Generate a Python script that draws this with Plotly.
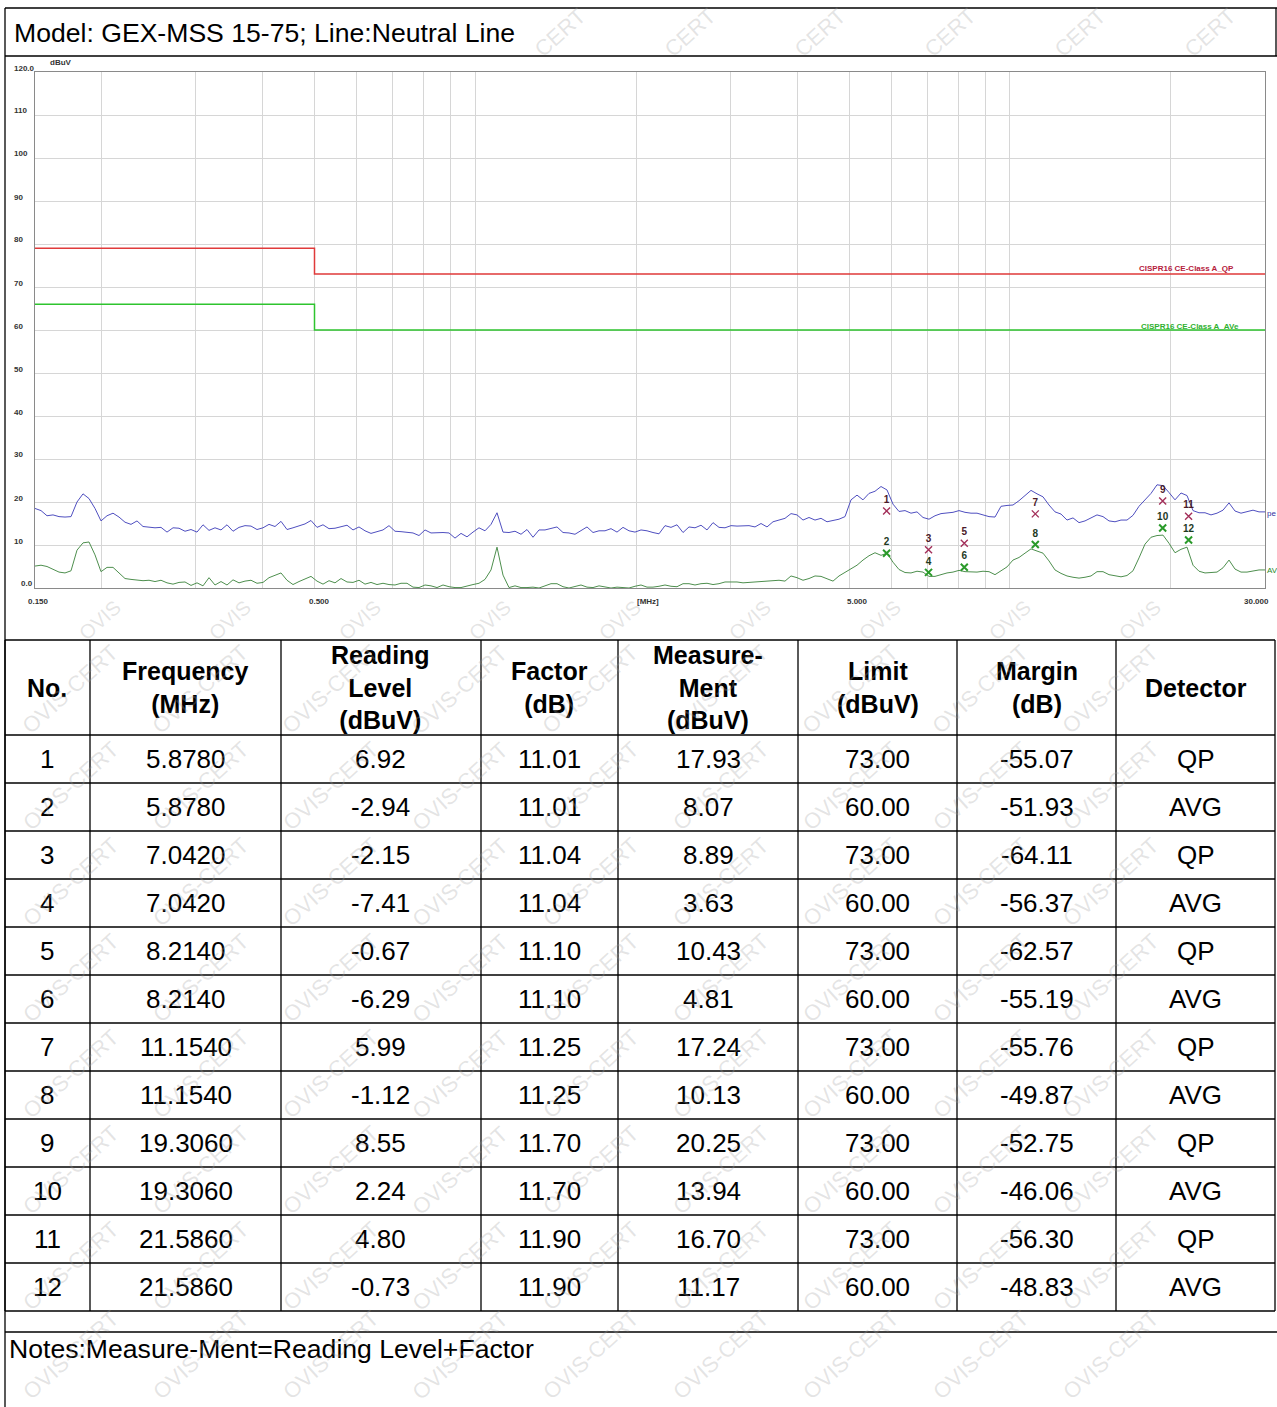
import numpy as np
import plotly.graph_objects as go

W, H = 1277, 1407

title_text = "Model: GEX-MSS 15-75; Line:Neutral Line"
notes_text = "Notes:Measure-Ment=Reading Level+Factor"

peak_dbuv = [
    18.5, 18.0, 16.8, 17.0, 16.6, 16.5, 16.6, 20.0, 21.9, 20.8, 18.5, 15.6, 16.8, 17.4, 16.5, 15.3,
    14.8, 15.6, 14.3, 14.2, 14.0, 14.1, 13.0, 14.0, 13.9, 13.2, 13.6, 13.0, 14.7, 13.4, 14.0, 13.5,
    14.7, 13.2, 14.1, 14.5, 14.4, 13.6, 14.0, 14.8, 14.3, 15.5, 13.6, 14.0, 14.5, 14.9, 15.7, 14.1,
    14.7, 13.8, 13.9, 14.2, 14.6, 13.5, 14.2, 13.3, 12.7, 13.1, 13.5, 14.5, 13.2, 13.1, 12.9, 12.8,
    12.2, 13.5, 12.8, 12.9, 12.9, 12.8, 11.6, 12.7, 11.9, 13.0, 14.0, 13.3, 14.8, 17.5, 13.0, 12.9,
    13.2, 12.5, 13.6, 11.8, 13.5, 13.5, 13.9, 14.2, 12.9, 12.8, 12.5, 13.3, 14.2, 12.9, 13.3, 13.3,
    13.8, 13.0, 14.1, 13.3, 13.0, 13.5, 13.3, 12.9, 12.6, 14.5, 14.1, 14.7, 12.9, 14.2, 14.0, 14.6,
    13.5, 15.2, 14.1, 14.0, 14.5, 14.4, 14.5, 14.5, 14.2, 15.0, 14.2, 15.4, 15.8, 16.2, 17.3, 17.0,
    15.8, 16.4, 15.8, 16.2, 15.4, 15.7, 16.0, 16.6, 20.5, 21.6, 20.5, 22.0, 22.5, 23.6, 22.8, 19.5,
    17.8, 18.0, 17.4, 17.7, 16.4, 16.0, 16.8, 17.3, 17.4, 17.6, 18.0, 17.6, 17.4, 17.4, 17.0, 16.6,
    16.5, 19.0, 19.2, 19.3, 20.3, 21.4, 22.7, 21.9, 21.2, 19.3, 17.7, 17.2, 15.8, 16.3, 15.2, 15.6,
    16.3, 17.0, 16.6, 15.6, 15.4, 15.8, 15.8, 16.9, 19.0, 20.6, 22.0, 24.0, 23.8, 22.2, 20.5, 22.1,
    21.5, 18.0, 17.5, 17.5, 17.0, 17.4, 18.1, 19.8, 17.9, 17.4, 17.7, 18.1, 17.7, 17.7,
]
avg_dbuv = [
    5.1, 5.3, 5.0, 4.3, 3.7, 3.5, 4.0, 8.8, 10.5, 10.7, 7.7, 3.8, 4.8, 4.8, 3.4, 2.2,
    2.0, 1.8, 1.7, 1.8, 1.5, 1.8, 1.2, 0.9, 1.3, 1.4, 0.6, 1.2, 0.5, 2.4, 0.7, 1.5,
    0.7, 1.9, 1.2, 1.6, 1.8, 1.1, 1.3, 2.4, 3.0, 3.5, 1.8, 0.8, 1.5, 2.1, 2.7, 1.6,
    0.9, 1.7, 1.2, 2.2, 1.4, 1.3, 1.8, 0.9, 1.3, 0.8, 1.1, 0.8, 0.7, 1.1, 1.1, 0.2,
    0.1, 0.7, 0.5, 0.1, 0.7, 0.3, 0.1, 0.1, 0.5, 0.8, 1.1, 2.0, 4.2, 9.5, 3.0, 0.1,
    0.5, 0.1, 0.1, 0.2, 0.0, 0.5, 1.0, 1.0, 0.3, 0.0, 0.4, 0.7, 0.2, 0.1, 0.5, 0.2,
    0.0, 0.2, 0.1, 0.0, 0.4, 0.7, 0.2, 0.2, 0.4, 0.7, 0.4, 0.3, 1.0, 1.0, 0.7, 1.0,
    1.1, 0.8, 1.0, 1.4, 1.4, 1.4, 1.2, 1.3, 1.4, 1.5, 1.7, 1.8, 1.8, 1.6, 2.8, 2.4,
    1.8, 2.2, 2.8, 2.7, 2.1, 1.6, 2.8, 3.7, 4.4, 5.3, 6.5, 7.5, 8.2, 7.6, 8.1, 6.0,
    4.3, 3.6, 3.5, 3.9, 3.7, 2.7, 2.7, 3.1, 3.5, 3.7, 4.1, 3.8, 3.7, 3.7, 3.9, 3.8,
    3.1, 4.0, 4.9, 6.5, 7.1, 8.1, 9.1, 8.6, 8.1, 6.3, 4.2, 3.4, 2.8, 2.5, 2.3, 2.5,
    2.8, 3.8, 3.8, 3.1, 2.8, 2.6, 2.9, 4.0, 7.0, 10.2, 11.8, 12.2, 12.3, 10.4, 8.2, 9.0,
    9.5, 5.3, 3.9, 3.5, 3.6, 3.7, 4.7, 6.5, 4.4, 3.7, 3.7, 4.0, 4.2, 4.2,
]
sweep_start_mhz, sweep_stop_mhz = 0.15, 30.0
sweep_mhz = np.geomspace(sweep_start_mhz, sweep_stop_mhz, len(peak_dbuv))

# ---- limits ----
limit_freq_mhz = [0.15, 0.5, 30.0]
qp_limit_dbuv = [79, 73, 73]
avg_limit_dbuv = [66, 60, 60]
qp_limit_name = "CISPR16 CE-Class A_QP"
avg_limit_name = "CISPR16 CE-Class A_AVe"
peak_tag, avg_tag = "pe", "AV"

# ---- measurement table ----
meas_no = [1, 2, 3, 4, 5, 6, 7, 8, 9, 10, 11, 12]
meas_freq = [5.878, 5.878, 7.042, 7.042, 8.214, 8.214, 11.154, 11.154, 19.306, 19.306, 21.586, 21.586]
meas_reading = [6.92, -2.94, -2.15, -7.41, -0.67, -6.29, 5.99, -1.12, 8.55, 2.24, 4.80, -0.73]
meas_factor = [11.01, 11.01, 11.04, 11.04, 11.10, 11.10, 11.25, 11.25, 11.70, 11.70, 11.90, 11.90]
meas_value = [17.93, 8.07, 8.89, 3.63, 10.43, 4.81, 17.24, 10.13, 20.25, 13.94, 16.70, 11.17]
meas_limit = [73.00, 60.00, 73.00, 60.00, 73.00, 60.00, 73.00, 60.00, 73.00, 60.00, 73.00, 60.00]
meas_margin = [-55.07, -51.93, -64.11, -56.37, -62.57, -55.19, -55.76, -49.87, -52.75, -46.06, -56.30, -48.83]
meas_detector = ["QP", "AVG", "QP", "AVG", "QP", "AVG", "QP", "AVG", "QP", "AVG", "QP", "AVG"]

header_labels = ["No.", "Frequency<br>(MHz)", "Reading<br>Level<br>(dBuV)", "Factor<br>(dB)",
                 "Measure-<br>Ment<br>(dBuV)", "Limit<br>(dBuV)", "Margin<br>(dB)", "Detector"]

y_tick_vals = [0, 10, 20, 30, 40, 50, 60, 70, 80, 90, 100, 110, 120]
y_tick_text = ["0.0", "10", "20", "30", "40", "50", "60", "70", "80", "90", "100", "110", "120.0"]
x_grid_vals = [0.2, 0.3, 0.4, 0.5, 0.6, 0.7, 0.8, 0.9, 1, 2, 3, 4, 5, 6, 7, 8, 9, 10, 20, 30]
x_label_vals = [0.15, 0.5, 2.09, 5.0, 30.0]
x_label_text = ["0.150", "0.500", "[MHz]", "5.000", "30.000"]

# ---------------- layout geometry (pixels) ----------------
FONT = "Liberation Sans, Arial, sans-serif"
PL, PR, PT, PB = 35, 1265, 72, 588        # plot area
col_edges = [5, 90, 281, 481, 618, 798, 957, 1116, 1275]
tab_top, head_bot, row_h = 640, 735, 48.0


def px(x):
    return x / W


def py(y):
    return 1 - y / H


fig = go.Figure()

# limits
fig.add_trace(go.Scatter(x=limit_freq_mhz, y=qp_limit_dbuv, mode="lines", line_shape="hv",
                         line=dict(color="#e03a3a", width=1.5), hoverinfo="skip"))
fig.add_trace(go.Scatter(x=limit_freq_mhz, y=avg_limit_dbuv, mode="lines", line_shape="hv",
                         line=dict(color="#2ec42e", width=1.5), hoverinfo="skip"))
# traces
fig.add_trace(go.Scatter(x=sweep_mhz, y=peak_dbuv, mode="lines",
                         line=dict(color="#4f4fc0", width=1), hoverinfo="skip"))
fig.add_trace(go.Scatter(x=sweep_mhz, y=avg_dbuv, mode="lines",
                         line=dict(color="#4e8f4e", width=1), hoverinfo="skip"))

# markers
qp_idx = [i for i, d in enumerate(meas_detector) if d == "QP"]
av_idx = [i for i, d in enumerate(meas_detector) if d == "AVG"]
for idx, mcol, tcol, lw in [(qp_idx, "#a3305a", "#4a1a2a", 1.4), (av_idx, "#2a9a2a", "#1f3a1f", 2.0)]:
    fig.add_trace(go.Scatter(
        x=[meas_freq[i] for i in idx], y=[meas_value[i] for i in idx],
        mode="markers+text", text=[f"<b>{meas_no[i]}</b>" for i in idx], textposition="top center",
        textfont=dict(size=10, color=tcol, family=FONT),
        marker=dict(symbol="x-thin-open", size=7, color=mcol, line=dict(color=mcol, width=lw)),
        hoverinfo="skip", cliponaxis=False))

annotations = []
shapes = []

# limit names
annotations.append(dict(x=px(1236), y=py(269), xref="paper", yref="paper", text=f"<b>{qp_limit_name}</b>",
                        showarrow=False, xanchor="right", yanchor="middle",
                        font=dict(size=8, color="#b5203c", family=FONT)))
annotations.append(dict(x=px(1241), y=py(326), xref="paper", yref="paper", text=f"<b>{avg_limit_name}</b>",
                        showarrow=False, xanchor="right", yanchor="middle",
                        font=dict(size=8, color="#30b030", family=FONT)))
# trace tags at right edge
annotations.append(dict(x=px(1265), y=py(513), xref="paper", yref="paper", text=peak_tag,
                        showarrow=False, xanchor="left", yanchor="middle",
                        font=dict(size=8, color="#3030a0", family=FONT)))
annotations.append(dict(x=px(1265), y=py(570), xref="paper", yref="paper", text=avg_tag,
                        showarrow=False, xanchor="left", yanchor="middle",
                        font=dict(size=8, color="#2a8a2a", family=FONT)))

# y tick labels
for v, t in zip(y_tick_vals, y_tick_text):
    ypix = PB - (PB - PT) * v / 120.0
    xl = 12
    if t == "0.0":
        xl = 19
    annotations.append(dict(x=px(xl), y=py(ypix - 4), xref="paper", yref="paper", text=f"<b>{t}</b>",
                            showarrow=False, xanchor="left", yanchor="middle",
                            font=dict(size=8, color="#333", family=FONT)))
annotations.append(dict(x=px(48), y=py(62), xref="paper", yref="paper", text="<b>dBuV</b>",
                        showarrow=False, xanchor="left", yanchor="middle",
                        font=dict(size=8, color="#333", family=FONT)))
# x labels
lx0, lx1 = np.log10(sweep_start_mhz), np.log10(sweep_stop_mhz)
for v, t in zip(x_label_vals, x_label_text):
    xpix = PL + (PR - PL) * (np.log10(v) - lx0) / (lx1 - lx0)
    shift = {"0.150": 3, "0.500": 5, "[MHz]": 1, "5.000": 8, "30.000": -9}[t]
    annotations.append(dict(x=px(xpix + shift), y=py(601), xref="paper", yref="paper", text=f"<b>{t}</b>",
                            showarrow=False, xanchor="center", yanchor="middle",
                            font=dict(size=8, color="#333", family=FONT)))

# frame
line_k = dict(color="black", width=1.3)
shapes.append(dict(type="line", xref="paper", yref="paper", x0=px(5), x1=px(1277), y0=py(8), y1=py(8), line=line_k))
shapes.append(dict(type="line", xref="paper", yref="paper", x0=px(5), x1=px(1277), y0=py(56), y1=py(56), line=line_k))
shapes.append(dict(type="line", xref="paper", yref="paper", x0=px(5), x1=px(5), y0=py(8), y1=py(1407), line=line_k))
shapes.append(dict(type="line", xref="paper", yref="paper", x0=px(1276), x1=px(1276), y0=py(8), y1=py(56), line=line_k))
shapes.append(dict(type="line", xref="paper", yref="paper", x0=px(5), x1=px(1277), y0=py(1332), y1=py(1332), line=line_k))

annotations.append(dict(x=px(12), y=py(33), xref="paper", yref="paper", text=title_text,
                        showarrow=False, xanchor="left", yanchor="middle",
                        font=dict(size=26.6, color="black", family=FONT)))
annotations.append(dict(x=px(7), y=py(1349), xref="paper", yref="paper", text=notes_text,
                        showarrow=False, xanchor="left", yanchor="middle",
                        font=dict(size=26.6, color="black", family=FONT)))

# table grid
n_rows = len(meas_no)
tab_bot = head_bot + row_h * n_rows
hlines = [tab_top, head_bot] + [head_bot + row_h * (i + 1) for i in range(n_rows)]
for yy in hlines:
    shapes.append(dict(type="line", xref="paper", yref="paper", x0=px(col_edges[0]), x1=px(col_edges[-1]),
                       y0=py(yy), y1=py(yy), line=line_k))
for xx in col_edges:
    shapes.append(dict(type="line", xref="paper", yref="paper", x0=px(xx), x1=px(xx),
                       y0=py(tab_top), y1=py(tab_bot), line=line_k))

col_centers = [(col_edges[i] + col_edges[i + 1]) / 2 for i in range(len(col_edges) - 1)]
for c, lab in zip(col_centers, header_labels):
    annotations.append(dict(x=px(c), y=py((tab_top + head_bot) / 2), xref="paper", yref="paper",
                            text=f"<b>{lab.replace('<br>', '</b><br><b>')}</b>", showarrow=False,
                            xanchor="center", yanchor="middle",
                            font=dict(size=25, color="black", family=FONT)))
for r in range(n_rows):
    cells = [str(meas_no[r]), f"{meas_freq[r]:.4f}", f"{meas_reading[r]:.2f}", f"{meas_factor[r]:.2f}",
             f"{meas_value[r]:.2f}", f"{meas_limit[r]:.2f}", f"{meas_margin[r]:.2f}", meas_detector[r]]
    yc = head_bot + row_h * (r + 0.5)
    for c, t in zip(col_centers, cells):
        annotations.append(dict(x=px(c), y=py(yc), xref="paper", yref="paper", text=t, showarrow=False,
                                xanchor="center", yanchor="middle",
                                font=dict(size=26, color="black", family=FONT)))

# watermarks (outside chart image)
wm_color = "rgba(160,160,160,0.28)"
for yy in [690, 786, 882, 978, 1074, 1170, 1266, 1355]:
    for xx in range(70, 1220, 130):
        annotations.append(dict(x=px(xx), y=py(yy), xref="paper", yref="paper", text="OVIS-CERT",
                                showarrow=False, textangle=-42, xanchor="center", yanchor="middle",
                                font=dict(size=22, color=wm_color, family=FONT)))
for xx in range(560, 1250, 130):
    annotations.append(dict(x=px(xx), y=py(32), xref="paper", yref="paper", text="CERT",
                            showarrow=False, textangle=-42, xanchor="center", yanchor="middle",
                            font=dict(size=22, color=wm_color, family=FONT)))
for xx in range(100, 1250, 130):
    annotations.append(dict(x=px(xx), y=py(620), xref="paper", yref="paper", text="OVIS",
                            showarrow=False, textangle=-42, xanchor="center", yanchor="middle",
                            font=dict(size=20, color=wm_color, family=FONT)))

fig.update_layout(
    width=W, height=H, margin=dict(l=0, r=0, t=0, b=0),
    paper_bgcolor="white", plot_bgcolor="white", showlegend=False,
    font=dict(family=FONT),
    xaxis=dict(type="log", range=[lx0, lx1], domain=[px(PL), px(PR)], tickvals=x_grid_vals,
               showticklabels=False, ticks="", showgrid=True, gridcolor="#d6d6d6", gridwidth=1,
               showline=True, mirror=True, linecolor="#8a8a8a", linewidth=1, zeroline=False),
    yaxis=dict(range=[0, 120], domain=[py(PB), py(PT)], tickvals=y_tick_vals, showticklabels=False,
               ticks="", showgrid=True, gridcolor="#d6d6d6", gridwidth=1,
               showline=True, mirror=True, linecolor="#8a8a8a", linewidth=1, zeroline=False),
    annotations=annotations, shapes=shapes,
)

fig.write_html("out.html", config={"displayModeBar": False},
               post_script="document.body.style.margin='0';")
